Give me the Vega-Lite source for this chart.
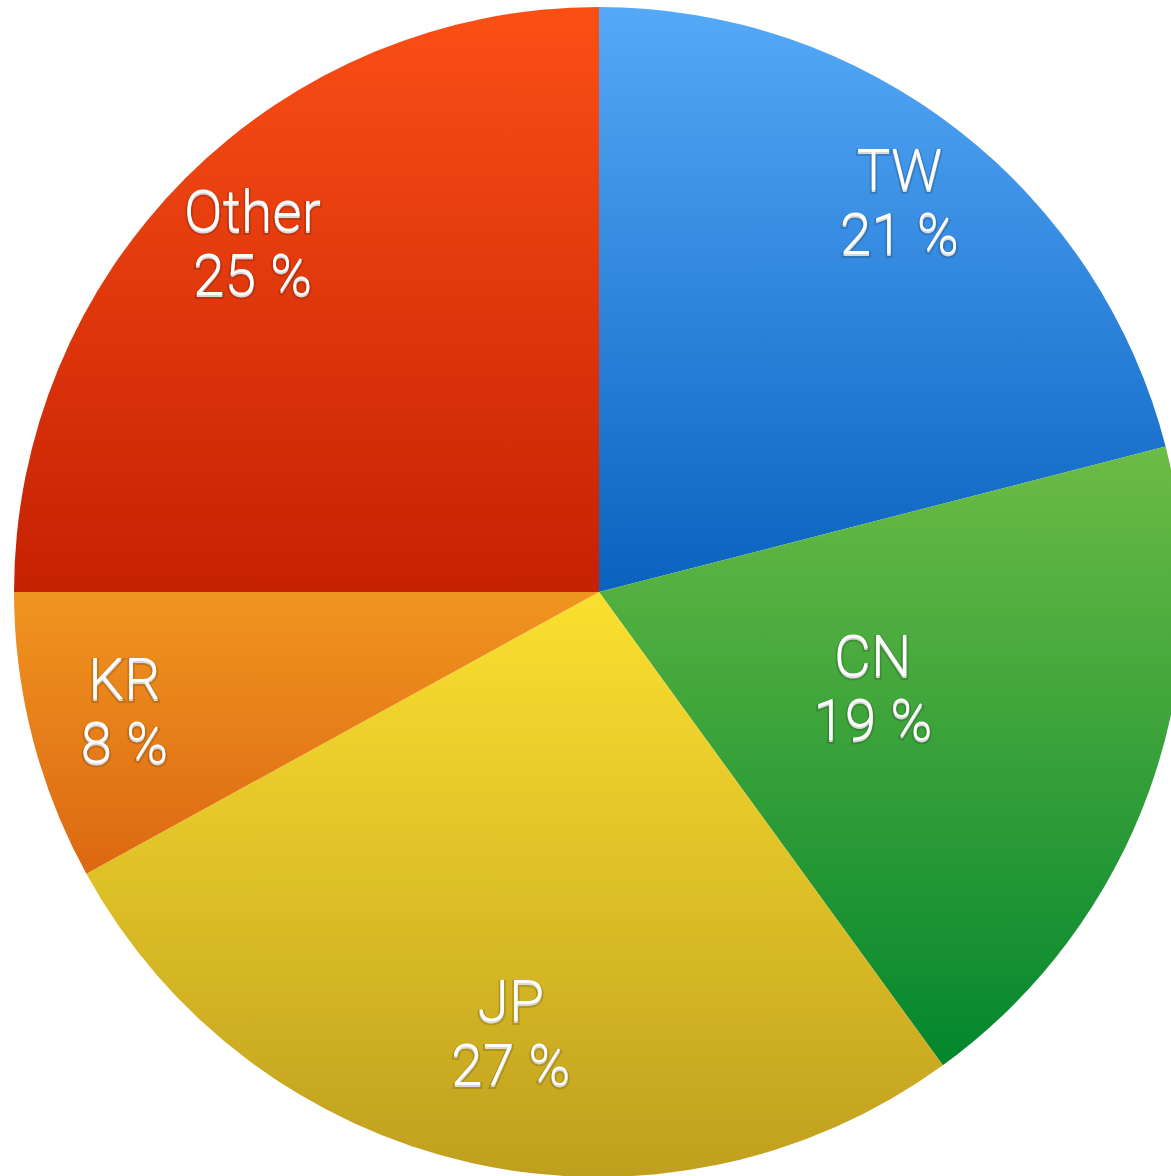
{
  "$schema": "https://vega.github.io/schema/vega-lite/v6.json",
  "width": 1198,
  "height": 1184,
  "padding": 0,
  "autosize": "none",
  "background": "white",
  "config": {"view": {"stroke": null}},
  "data": {"values": [
    {"idx": 1, "country": "TW", "share": 21},
    {"idx": 2, "country": "CN", "share": 19},
    {"idx": 3, "country": "JP", "share": 27},
    {"idx": 4, "country": "KR", "share": 8},
    {"idx": 5, "country": "Other", "share": 25}
  ]},
  "transform": [{"calculate": "datum.country + '\\n' + datum.share + ' %'", "as": "label"}],
  "encoding": {
    "theta": {"field": "share", "type": "quantitative", "stack": true},
    "order": {"field": "idx", "type": "quantitative", "sort": "ascending"}
  },
  "layer": [
    {"mark": {"type": "arc", "outerRadius": 585, "strokeWidth": 0, "fill": {"gradient": "linear", "x1": 0, "y1": 0, "x2": 0, "y2": 1, "stops": [{"offset": 0, "color": "#55a9f8"}, {"offset": 1, "color": "#0a62bf"}]}},
     "encoding": {"opacity": {"condition": {"test": "datum.country === 'TW'", "value": 1}, "value": 0}}},
    {"mark": {"type": "arc", "outerRadius": 585, "strokeWidth": 0, "fill": {"gradient": "linear", "x1": 0, "y1": 0, "x2": 0, "y2": 1, "stops": [{"offset": 0, "color": "#6cbc45"}, {"offset": 1, "color": "#03862e"}]}},
     "encoding": {"opacity": {"condition": {"test": "datum.country === 'CN'", "value": 1}, "value": 0}}},
    {"mark": {"type": "arc", "outerRadius": 585, "strokeWidth": 0, "fill": {"gradient": "linear", "x1": 0, "y1": 0, "x2": 0, "y2": 1, "stops": [{"offset": 0, "color": "#fbe030"}, {"offset": 1, "color": "#c09f1e"}]}},
     "encoding": {"opacity": {"condition": {"test": "datum.country === 'JP'", "value": 1}, "value": 0}}},
    {"mark": {"type": "arc", "outerRadius": 585, "strokeWidth": 0, "fill": {"gradient": "linear", "x1": 0, "y1": 0, "x2": 0, "y2": 1, "stops": [{"offset": 0, "color": "#f09520"}, {"offset": 1, "color": "#dc6812"}]}},
     "encoding": {"opacity": {"condition": {"test": "datum.country === 'KR'", "value": 1}, "value": 0}}},
    {"mark": {"type": "arc", "outerRadius": 585, "strokeWidth": 0, "fill": {"gradient": "linear", "x1": 0, "y1": 0, "x2": 0, "y2": 1, "stops": [{"offset": 0, "color": "#fb4f16"}, {"offset": 1, "color": "#c52103"}]}},
     "encoding": {"opacity": {"condition": {"test": "datum.country === 'Other'", "value": 1}, "value": 0}}},
    {"mark": {"type": "text", "radius": 490, "font": "Roboto", "fontWeight": 300, "fontSize": 57, "lineHeight": 64, "lineBreak": "\n", "align": "center", "baseline": "middle", "fill": "white", "stroke": "#000000", "strokeWidth": 4, "strokeOpacity": 0.15, "dy": -30},
     "encoding": {"text": {"field": "label"}, "opacity": {"condition": {"test": "indexof(['TW','KR','Other'], datum.country) >= 0", "value": 1}, "value": 0}}},
    {"mark": {"type": "text", "radius": 455, "font": "Roboto", "fontWeight": 300, "fontSize": 57, "lineHeight": 64, "lineBreak": "\n", "align": "center", "baseline": "middle", "fill": "white", "stroke": "#000000", "strokeWidth": 4, "strokeOpacity": 0.15, "dy": -30, "dx": 11},
     "encoding": {"text": {"field": "label"}, "opacity": {"condition": {"test": "datum.country === 'JP'", "value": 1}, "value": 0}}},
    {"mark": {"type": "text", "radius": 291, "font": "Roboto", "fontWeight": 300, "fontSize": 57, "lineHeight": 64, "lineBreak": "\n", "align": "center", "baseline": "middle", "fill": "white", "stroke": "#000000", "strokeWidth": 4, "strokeOpacity": 0.15, "dy": -30},
     "encoding": {"text": {"field": "label"}, "opacity": {"condition": {"test": "datum.country === 'CN'", "value": 1}, "value": 0}}},
    {"mark": {"type": "text", "radius": 490, "font": "Roboto", "fontWeight": 300, "fontSize": 57, "lineHeight": 64, "lineBreak": "\n", "align": "center", "baseline": "middle", "fill": "white", "dy": -32},
     "encoding": {"text": {"field": "label"}, "opacity": {"condition": {"test": "indexof(['TW','KR','Other'], datum.country) >= 0", "value": 1}, "value": 0}}},
    {"mark": {"type": "text", "radius": 455, "font": "Roboto", "fontWeight": 300, "fontSize": 57, "lineHeight": 64, "lineBreak": "\n", "align": "center", "baseline": "middle", "fill": "white", "dy": -32, "dx": 11},
     "encoding": {"text": {"field": "label"}, "opacity": {"condition": {"test": "datum.country === 'JP'", "value": 1}, "value": 0}}},
    {"mark": {"type": "text", "radius": 291, "font": "Roboto", "fontWeight": 300, "fontSize": 57, "lineHeight": 64, "lineBreak": "\n", "align": "center", "baseline": "middle", "fill": "white", "dy": -32},
     "encoding": {"text": {"field": "label"}, "opacity": {"condition": {"test": "datum.country === 'CN'", "value": 1}, "value": 0}}}
  ]
}
